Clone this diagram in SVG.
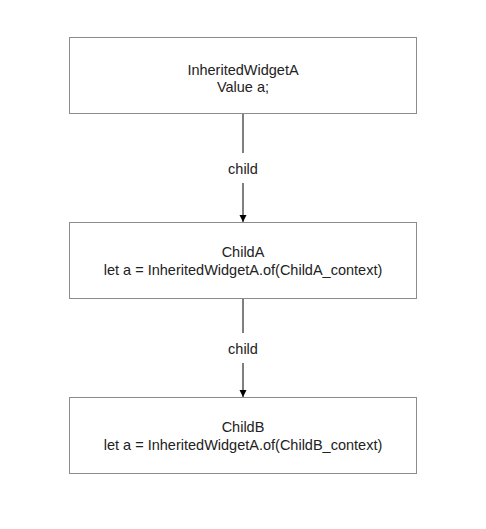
<svg xmlns="http://www.w3.org/2000/svg" width="486" height="529" viewBox="0 0 486 529">
<defs>
<style>
.box{fill:#fff;stroke:#8c8c8c;stroke-width:1}
.t{font-family:"Liberation Sans",Arial,sans-serif;font-size:14.5px;fill:#222;text-anchor:middle}
.edge{stroke:#000;stroke-width:1;fill:none}
</style>
<marker id="arr" viewBox="0 0 10 10" refX="10" refY="5" markerWidth="7" markerHeight="8" orient="auto" markerUnits="userSpaceOnUse">
<path d="M0,0 L10,5 L0,10 z" fill="#000"/>
</marker>
</defs>
<rect width="486" height="529" fill="#fff"/>
<g id="connectors">
<line class="edge" x1="243" y1="113" x2="243" y2="153"/>
<line class="edge" x1="243" y1="183" x2="243" y2="222" marker-end="url(#arr)"/>
<text class="t" x="243" y="174">child</text>
<line class="edge" x1="243" y1="298" x2="243" y2="333"/>
<line class="edge" x1="243" y1="363" x2="243" y2="397" marker-end="url(#arr)"/>
<text class="t" x="243" y="354">child</text>
</g>
<g id="nodeA">
<rect class="box" x="69.5" y="37.5" width="347" height="76"/>
<text class="t" x="243" y="75">InheritedWidgetA</text>
<text class="t" x="243" y="92">Value a;</text>
</g>
<g id="childA">
<rect class="box" x="69.5" y="222.5" width="347" height="76"/>
<text class="t" x="243" y="257">ChildA</text>
<text class="t" x="243" y="275">let a = InheritedWidgetA.of(ChildA_context)</text>
</g>
<g id="childB">
<rect class="box" x="69.5" y="397.5" width="347" height="76"/>
<text class="t" x="243" y="432">ChildB</text>
<text class="t" x="243" y="450">let a = InheritedWidgetA.of(ChildB_context)</text>
</g>
</svg>
